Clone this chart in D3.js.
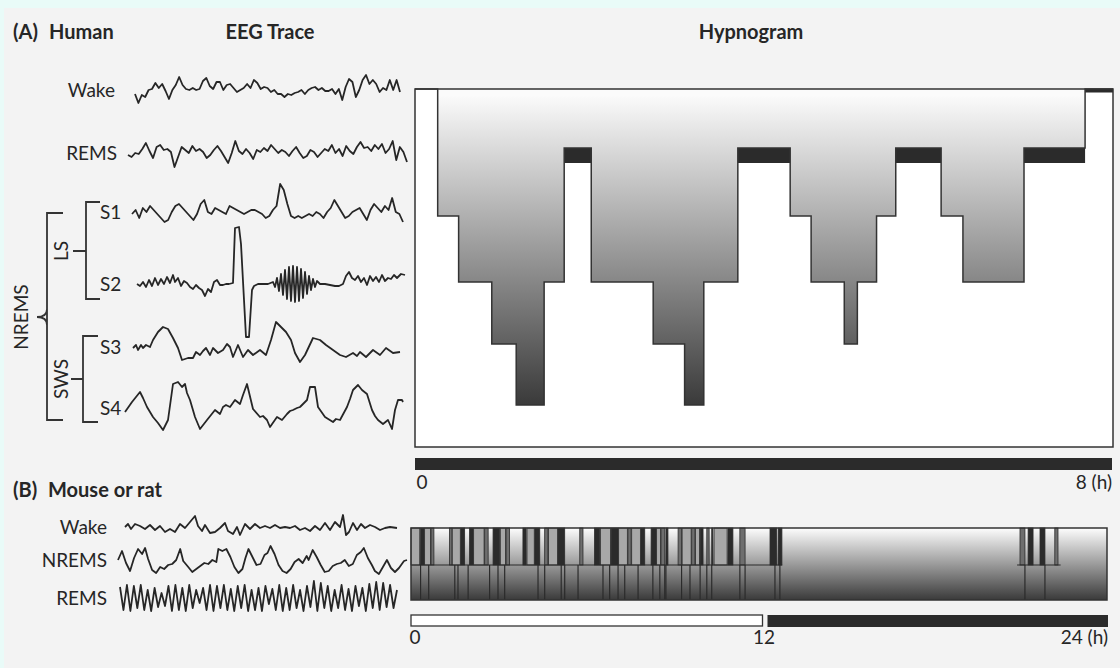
<!DOCTYPE html>
<meta charset="utf-8">
<style>
body { margin: 0; background: #e9fbf8; }
svg { display: block; }
text { font-family: Lato, "Open Sans", sans-serif; fill: #262626; }
.lbl { font-size: 19px; }
.ttl { font-size: 20px; font-weight: bold; }
.trace { fill: none; stroke: #262626; stroke-width: 1.8; stroke-linejoin: round; }
.bracket { fill: none; stroke: #333; stroke-width: 1.8; }
</style>
<body>
<script src="https://cdn.jsdelivr.net/npm/d3@7"></script>
<script>

// ---- human EEG traces (px offsets, up = positive) ----
var humanWake = [-2,-11,-3,-5,2,3,9,4,8,1,-7,2,7,15,7,3,2,4,2,3,11,14,6,3,10,10,2,7,8,4,0,2,4,8,4,12,9,3,5,4,0,2,-2,-2,-5,-2,-3,-1,0,2,-2,2,4,5,2,4,1,1,3,-2,3,-8,5,13,10,-5,2,12,17,8,12,8,0,4,2,12,2,12,0];
var humanRems = [0,-2,2,1,6,12,4,-3,8,10,5,6,3,-12,-2,8,5,2,9,4,6,3,-3,0,5,9,4,-2,-8,2,14,4,1,6,2,-4,5,3,7,4,10,6,2,5,3,-1,4,8,2,-3,-1,5,3,-2,2,6,4,10,2,6,-1,9,4,1,8,13,7,8,4,10,6,11,2,6,14,-5,8,3,-7];
var humanS1 = [0,4,-4,6,2,8,4,0,-4,-8,-6,2,8,10,6,2,-2,-6,0,10,14,2,0,6,4,2,0,8,6,4,2,0,2,4,4,2,0,-4,-2,4,8,30,24,10,-2,-4,-2,-4,-2,0,-2,2,0,-4,2,6,14,8,2,-4,-2,2,4,6,0,-6,4,10,6,2,8,4,16,2,0,-8];
var humanS2 = [[0,0],[3,-2],[6,2],[9,-3],[12,4],[15,-2],[18,6],[21,-1],[24,5],[27,0],[30,7],[33,1],[36,9],[38,2],[41,6],[44,-2],[47,3],[50,1],[53,-3],[56,-5],[59,-1],[62,-4],[65,-6],[68,-12],[71,-5],[74,-8],[77,2],[80,4],[83,-1],[86,-1],[89,0],[92,0],[96,1],[98,56],[102,57],[104,40],[109,-53],[112,-53],[115,-6],[117,-2],[121,0],[126,0],[131,0],
  [136,2],[138,-3],[140,6],[142,-7],[144,10],[146,-11],[148,14],[150,-15],[152,17],[154,-17],[156,18],[158,-18],[160,17],[162,-17],[164,15],[166,-14],[168,12],[170,-10],[172,8],[174,-6],[176,5],[178,-3],[180,3],[183,0],
  [188,0],[193,-1],[198,-2],[202,-2],[206,0],[209,8],[212,12],[215,6],[218,4],[221,8],[224,2],[227,6],[230,-1],[233,8],[236,3],[239,7],[242,2],[245,9],[248,3],[251,6],[254,5],[257,9],[260,6],[264,10],[268,9]];
var humanS3 = [[0,2],[3,5],[5,0],[8,5],[10,2],[13,5],[17,3],[20,10],[25,18],[30,23],[35,21],[40,12],[45,2],[49,-10],[55,-8],[60,-8],[63,-2],[67,-5],[70,-1],[73,2],[77,-5],[80,2],[85,-3],[90,0],[94,6],[97,3],[100,-7],[105,5],[110,-7],[115,0],[120,-5],[127,0],[133,-5],[138,10],[143,28],[148,23],[153,18],[158,10],[162,-3],[167,-12],[172,-5],[180,12],[187,10],[193,5],[200,0],[207,-5],[213,-7],[220,-3],[224,-6],[227,-2],[233,-7],[240,0],[247,-5],[253,2],[260,-3],[267,-2]];
var humanS4 = [[0,-5],[7,5],[15,15],[18,9],[22,0],[28,-10],[33,-16],[38,-23],[43,-13],[48,23],[53,25],[57,20],[60,23],[62,14],[65,7],[70,-10],[75,-22],[82,-13],[86,-8],[90,-3],[95,-7],[98,0],[101,2],[105,0],[110,7],[115,3],[118,12],[122,23],[128,-2],[135,-10],[138,-9],[142,-13],[145,-20],[152,-10],[157,-13],[162,-7],[165,-4],[168,-3],[172,-1],[175,0],[178,3],[182,7],[185,20],[190,20],[193,0],[200,-10],[208,-15],[211,-12],[215,-13],[222,0],[225,8],[228,17],[233,22],[237,17],[242,13],[247,-3],[250,-9],[253,-13],[258,-17],[263,-13],[267,-22],[270,-3],[273,7],[277,7],[278,5]];

// ---- mouse EEG traces ----
var mouseWake = [[0,0],[3,3],[6,-2],[10,3],[15,1],[20,-2],[25,2],[30,-3],[35,1],[40,-5],[45,-2],[50,-5],[55,3],[60,-1],[65,5],[70,11],[73,1],[77,-4],[80,2],[85,-6],[90,-5],[95,-1],[100,4],[103,-4],[108,-7],[112,0],[115,-8],[120,3],[125,-2],[130,3],[135,-1],[140,1],[145,-1],[150,2],[155,-1],[160,0],[165,-1],[170,1],[175,-3],[180,-1],[185,-4],[190,1],[195,-3],[200,4],[205,-3],[210,5],[215,0],[218,12],[221,-8],[224,-5],[228,4],[232,-3],[236,3],[240,-1],[245,2],[250,0],[255,-3],[260,-1],[265,0],[272,-1]];
var mouseNrems = [[0,3],[4,12],[8,0],[12,-8],[16,5],[20,14],[24,9],[27,15],[30,4],[34,-7],[38,-10],[42,-4],[46,-6],[50,-2],[54,-1],[58,3],[62,14],[65,2],[70,-4],[74,-9],[78,-6],[82,-3],[86,0],[90,-1],[94,3],[98,1],[100,14],[104,12],[108,14],[112,6],[116,-4],[120,-10],[124,-6],[127,5],[130,14],[134,6],[138,-2],[142,-1],[146,8],[149,10],[152,17],[156,9],[160,-2],[164,-8],[168,-10],[172,-6],[176,1],[180,4],[184,0],[188,7],[190,3],[194,13],[198,6],[202,-2],[206,-9],[210,-8],[214,-3],[218,-1],[222,0],[226,3],[230,-3],[234,-1],[238,8],[242,11],[245,15],[249,5],[253,-2],[256,-8],[260,-11],[264,-4],[268,3],[272,-5],[276,-9],[280,-5],[285,2],[288,3]];
var mouseRems = [11,-12,13,-13,12,-10,13,-12,8,-13,10,-9,5,-8,12,-13,13,-12,10,-13,13,-10,8,-5,10,-12,13,-13,12,-10,13,-12,9,-13,12,-10,13,-13,8,-12,10,-13,12,-6,9,-12,13,-13,10,-12,13,-10,8,-13,12,-9,17,-13,15,-10,12,-13,8,-10,13,-12,9,-13,12,-8,10,-13,14,-10,16,-12,15,-9,13,-10,8];

// ---- human hypnogram (hours) ----
var stageNames = ["W", "REM", "S1", "S2", "S3", "S4"];
var humanStages = ["W","S1","S2","S3","S4","S2","REM","S2","S3","S4","S2","REM","S1","S2","S3","S2","S1","REM","S1","S2","REM","W"];
var humanStarts = [0,0.26,0.50,0.88,1.16,1.48,1.71,2.02,2.73,3.09,3.31,3.70,4.30,4.54,4.92,5.07,5.29,5.51,6.03,6.28,6.98,7.68];
var humanEnd = 8;

// ---- mouse hypnogram (hours) ----
var mouseWakeBouts = [[0.33,0.45],[1.72,1.85],[2.02,2.14],[2.83,3.06],[3.86,3.97],[4.27,4.44],[5.07,5.30],[6.33,6.51],[6.90,7.14],[7.93,8.06],[8.28,8.45],[8.79,8.86],[9.97,10.07],[10.37,10.41],[10.93,11.10],[12.38,12.61],[12.66,12.79],[21.28,21.45],[21.69,21.86]];
var mouseBriefBouts = [[0.69,0.79],[1.33,1.41],[2.54,2.66],[3.28,3.40],[4.61,4.72],[5.82,5.93],[7.48,7.59],[8.62,8.75],[9.21,9.33],[9.68,9.79],[10.20,10.28],[11.34,11.52],[21.0,21.17],[22.2,22.31]];
var mouseLightBouts = [[0.0,0.30],[0.47,0.67],[1.42,1.70],[2.16,2.52],[3.08,3.26],[4.00,4.25],[4.74,5.05],[6.53,6.88],[7.16,7.46],[7.61,7.91],[8.47,8.60],[9.35,9.66],[9.81,9.95],[10.45,10.9]];
var mouseRemOnsets = [0.33,0.61,1.51,1.62,1.97,2.71,3.0,3.23,4.38,4.61,5.18,5.30,5.76,6.62,6.85,7.14,7.37,7.83,8.34,8.58,8.75,8.79,9.33,9.62,9.97,10.2,10.37,11.34,11.52,12.55,12.72,21.17,21.86];
var mouseSleepSpans = [[0,12.8],[20.9,22.4]];

var svg = d3.select("body").append("svg")
    .attr("width", 1120)
    .attr("height", 668);

svg.append("rect").attr("x", 4).attr("y", 8).attr("width", 1116).attr("height", 660).attr("fill", "#f3f3f3");

var defs = svg.append("defs");
function grad(id, y1, y2, c1, c2) {
  var g = defs.append("linearGradient").attr("id", id)
      .attr("gradientUnits", "userSpaceOnUse")
      .attr("x1", 0).attr("x2", 0).attr("y1", y1).attr("y2", y2);
  g.append("stop").attr("offset", 0).attr("stop-color", c1);
  g.append("stop").attr("offset", 1).attr("stop-color", c2);
}
grad("hg", 95, 408, "#fbfbfb", "#383838");
grad("mg", 528, 600, "#fdfdfd", "#3a3a3a");

// ---- text ----
function txt(x, y, s, cls, anchor) {
  return svg.append("text").attr("x", x).attr("y", y).attr("class", cls)
      .attr("text-anchor", anchor || "start").text(s);
}
txt(13, 39, "(A)", "ttl");
txt(49, 39, "Human", "ttl");
txt(270, 39, "EEG Trace", "ttl", "middle");
txt(751, 39, "Hypnogram", "ttl", "middle");
txt(13, 497, "(B)", "ttl");
txt(48, 497, "Mouse or rat", "ttl");

txt(115, 97, "Wake", "lbl", "end");
txt(117, 160, "REMS", "lbl", "end");
txt(100, 219, "S1", "lbl");
txt(100, 291, "S2", "lbl");
txt(100, 354, "S3", "lbl");
txt(100, 415, "S4", "lbl");

txt(107, 534, "Wake", "lbl", "end");
txt(107, 567, "NREMS", "lbl", "end");
txt(107, 605, "REMS", "lbl", "end");

function vtxt(x, y, s) {
  svg.append("text").attr("class", "lbl").attr("text-anchor", "middle")
      .attr("transform", "translate(" + x + "," + y + ") rotate(-90)").text(s);
}
vtxt(28, 317, "NREMS");
vtxt(68, 251, "LS");
vtxt(68, 379, "SWS");

svg.append("path").attr("class", "bracket").attr("d", "M100,202H86V299H100M86,251H73");
svg.append("path").attr("class", "bracket").attr("d", "M98,336H83V422H98M83,379H71");
svg.append("path").attr("class", "bracket").attr("d", "M63,213H47V420H63M47,309Q47,317 37,317Q47,317 47,325");

// ---- traces ----
function drawTrace(data, x0, x1, base) {
  var pts = data.map(function(d, i) { return Array.isArray(d) ? d : [i, d]; });
  var x = d3.scaleLinear().domain(d3.extent(pts, function(d) { return d[0]; })).range([x0, x1]);
  var y = d3.scaleLinear().domain([0, 10]).range([base, base - 10]);
  svg.append("path").attr("class", "trace")
      .attr("d", d3.line().x(function(d) { return x(d[0]); }).y(function(d) { return y(d[1]); })(pts));
}
drawTrace(humanWake, 135, 400, 92);
drawTrace(humanRems, 128, 407, 155);
drawTrace(humanS1, 132, 403, 214);
drawTrace(humanS2, 137, 405, 284);
drawTrace(humanS3, 133, 400, 350);
drawTrace(humanS4, 125, 403, 407);
drawTrace(mouseWake, 125, 397, 527);
drawTrace(mouseNrems, 118, 407, 563);
drawTrace(mouseRems, 120, 397, 598);

// ---- human hypnogram ----
var hTop = 89, hBottom = 447;
var hx = d3.scaleLinear().domain([0, humanEnd]).range([415, 1113]);
var hy = d3.scaleOrdinal().domain(stageNames).range([hTop, 148, 216, 282, 344, 405]);
var remDepth = 15;

var steps = humanStarts.map(function(t, i) { return {t: t, s: humanStages[i]}; });
steps.push({t: humanEnd, s: humanStages[humanStages.length - 1]});

svg.append("rect").attr("x", hx(0)).attr("y", hTop).attr("width", hx(humanEnd) - hx(0))
    .attr("height", hBottom - hTop).attr("fill", "#fff");

svg.append("path").attr("fill", "url(#hg)")
    .attr("d", d3.area().curve(d3.curveStepAfter)
      .x(function(d) { return hx(d.t); })
      .y0(hTop)
      .y1(function(d) { return hy(d.s); })(steps));

steps.slice(0, -1).forEach(function(d, i) {
  var x0 = hx(d.t), x1 = hx(steps[i + 1].t);
  if (d.s === "REM") {
    svg.append("rect").attr("x", x0).attr("y", hy("REM")).attr("width", x1 - x0)
        .attr("height", remDepth).attr("fill", "#2b2b2b");
  }
  if (d.s === "W" && i > 0) {
    svg.append("rect").attr("x", x0).attr("y", hTop).attr("width", x1 - x0)
        .attr("height", 3.5).attr("fill", "#2b2b2b");
  }
});

svg.append("path").attr("fill", "none").attr("stroke", "#333").attr("stroke-width", 1.5)
    .attr("d", d3.line().curve(d3.curveStepAfter)
      .x(function(d) { return hx(d.t); })
      .y(function(d) { return hy(d.s); })(steps));

svg.append("rect").attr("x", hx(0)).attr("y", hTop).attr("width", hx(humanEnd) - hx(0))
    .attr("height", hBottom - hTop).attr("fill", "none").attr("stroke", "#333").attr("stroke-width", 1.5);

svg.append("rect").attr("x", hx(0)).attr("y", 458).attr("width", hx(humanEnd) - hx(0) - 1)
    .attr("height", 12).attr("fill", "#2b2b2b");
txt(hx(0) + 7, 489, "0", "lbl", "middle");
txt(hx(humanEnd) - 1, 489, "8 (h)", "lbl", "end");

// ---- mouse hypnogram ----
var mTop = 528, mMid = 565, mBottom = 600;
var mx = d3.scaleLinear().domain([0, 24]).range([411, 1107]);

svg.append("rect").attr("x", mx(0)).attr("y", mTop).attr("width", mx(24) - mx(0))
    .attr("height", mBottom - mTop).attr("fill", "url(#mg)");

function bouts(data, color) {
  svg.append("g").selectAll("rect").data(data).join("rect")
      .attr("x", function(d) { return mx(d[0]); })
      .attr("y", mTop)
      .attr("width", function(d) { return mx(d[1]) - mx(d[0]); })
      .attr("height", mMid - mTop)
      .attr("fill", color)
      .attr("stroke", "#2b2b2b").attr("stroke-width", 0.8);
}
bouts(mouseLightBouts, "#a8a8a8");
bouts(mouseBriefBouts, "#6e6e6e");
bouts(mouseWakeBouts, "#2b2b2b");

svg.append("g").selectAll("line").data(mouseRemOnsets).join("line")
    .attr("x1", function(d) { return mx(d); }).attr("x2", function(d) { return mx(d); })
    .attr("y1", mMid).attr("y2", mBottom)
    .attr("stroke", "#2b2b2b").attr("stroke-width", 1.2);

svg.append("g").selectAll("line").data(mouseSleepSpans).join("line")
    .attr("x1", function(d) { return mx(d[0]); }).attr("x2", function(d) { return mx(d[1]); })
    .attr("y1", mMid).attr("y2", mMid)
    .attr("stroke", "#2b2b2b").attr("stroke-width", 1);

svg.append("rect").attr("x", mx(0)).attr("y", mTop).attr("width", mx(24) - mx(0))
    .attr("height", mBottom - mTop).attr("fill", "none").attr("stroke", "#333").attr("stroke-width", 1.5);

svg.append("rect").attr("x", mx(0)).attr("y", 615).attr("width", mx(12) - mx(0) + 3.5)
    .attr("height", 11).attr("fill", "#fff").attr("stroke", "#333").attr("stroke-width", 1.3);
svg.append("rect").attr("x", mx(12) + 8.5).attr("y", 615).attr("width", mx(24) - mx(12) - 7.5)
    .attr("height", 12).attr("fill", "#2b2b2b");
txt(mx(0) + 4, 644, "0", "lbl", "middle");
txt(mx(12) + 5, 644, "12", "lbl", "middle");
txt(mx(24) + 1, 644, "24 (h)", "lbl", "end");

</script>
</body>
